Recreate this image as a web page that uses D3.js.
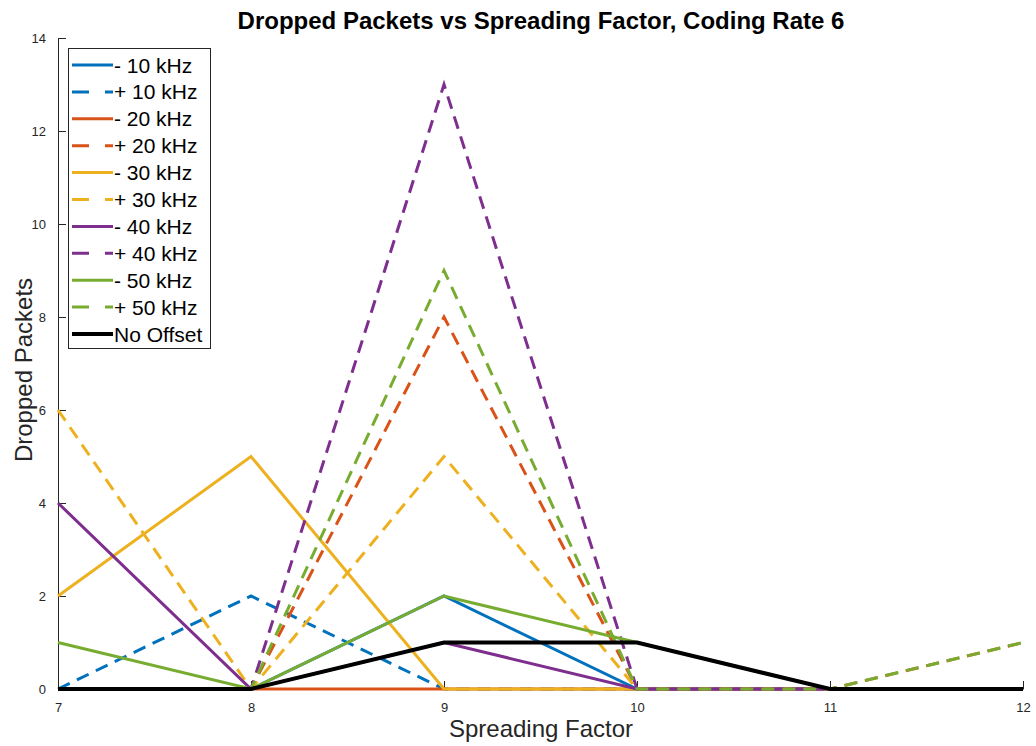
<!DOCTYPE html>
<html>
<head>
<meta charset="utf-8">
<script src="https://cdn.jsdelivr.net/npm/d3@7"></script>
<style>
  html, body { margin: 0; padding: 0; background: #fff; }
  svg { display: block; font-family: "Liberation Sans", Arial, Helvetica, sans-serif; }
</style>
</head>
<body>
<svg id="chart" width="1036" height="746"></svg>
<script>
// Spreading factors on the x axis
const spreadingFactors = [7, 8, 9, 10, 11, 12];

// Dropped packet counts per frequency offset
const minus10 = [0, 0, 2, 0, 0, 0];
const plus10  = [0, 2, 0, 0, 0, 0];
const minus20 = [0, 0, 0, 0, 0, 0];
const plus20  = [0, 0, 8, 0, 0, 1];
const minus30 = [2, 5, 0, 0, 0, 0];
const plus30  = [6, 0, 5, 0, 0, 0];
const minus40 = [4, 0, 1, 0, 0, 0];
const plus40  = [0, 0, 13, 0, 0, 0];
const minus50 = [1, 0, 2, 1, 0, 0];
const plus50  = [0, 0, 9, 0, 0, 1];
const noOffset = [0, 0, 1, 1, 0, 0];

const seriesNames = ["- 10 kHz", "+ 10 kHz", "- 20 kHz", "+ 20 kHz", "- 30 kHz",
                     "+ 30 kHz", "- 40 kHz", "+ 40 kHz", "- 50 kHz", "+ 50 kHz", "No Offset"];
const seriesValues = [minus10, plus10, minus20, plus20, minus30,
                      plus30, minus40, plus40, minus50, plus50, noOffset];

const yTicks = [0, 2, 4, 6, 8, 10, 12, 14];
const xTicks = [7, 8, 9, 10, 11, 12];

const palette = ["#0072BD", "#0072BD", "#D95319", "#D95319", "#EDB120",
                 "#EDB120", "#7E2F8E", "#7E2F8E", "#77AC30", "#77AC30", "#000000"];
const dashed = [false, true, false, true, false, true, false, true, false, true, false];

const svg = d3.select("#chart");
const margin = { left: 58, right: 13, top: 38, bottom: 57 };
const W = 1036, H = 746;

const x = d3.scaleLinear().domain([7, 12]).range([margin.left, W - margin.right]);
const y = d3.scaleLinear().domain([0, 14]).range([H - margin.bottom, margin.top]);

// Axes (ticks pointing into the plot)
const xAxis = svg.append("g")
  .attr("transform", `translate(0,${y(0)})`)
  .call(d3.axisBottom(x).tickValues(xTicks).tickFormat(d3.format("d"))
        .tickSizeInner(-8).tickSizeOuter(0).tickPadding(14));
const yAxis = svg.append("g")
  .attr("transform", `translate(${x(7)},0)`)
  .call(d3.axisLeft(y).tickValues(yTicks).tickFormat(d3.format("d"))
        .tickSizeInner(-8).tickSizeOuter(0).tickPadding(12));

[xAxis, yAxis].forEach(g => {
  g.select(".domain").attr("stroke", "#262626").attr("stroke-width", 1);
  g.selectAll(".tick line").attr("stroke", "#262626").attr("stroke-width", 1);
  g.selectAll(".tick text").attr("fill", "#262626").style("font-size", "13px")
    .style("font-family", "'Liberation Sans', Arial, sans-serif");
});

// Series lines
const line = d3.line()
  .x((d, i) => x(spreadingFactors[i]))
  .y(d => y(d));

seriesValues.forEach((vals, k) => {
  svg.append("path")
    .datum(vals)
    .attr("d", line)
    .attr("fill", "none")
    .attr("stroke", palette[k])
    .attr("stroke-width", k === 10 ? 4 : 3)
    .attr("stroke-dasharray", dashed[k] ? "13,8" : null)
    .attr("stroke-linejoin", "miter");
});

// Title and axis labels
svg.append("text")
  .attr("x", 541).attr("y", 29)
  .attr("text-anchor", "middle")
  .style("font-size", "24px").style("font-weight", "bold")
  .attr("fill", "#000")
  .text("Dropped Packets vs Spreading Factor, Coding Rate 6");

svg.append("text")
  .attr("x", 541).attr("y", 737)
  .attr("text-anchor", "middle")
  .style("font-size", "24px")
  .attr("fill", "#262626")
  .text("Spreading Factor");

svg.append("text")
  .attr("transform", "translate(32,370) rotate(-90)")
  .attr("text-anchor", "middle")
  .style("font-size", "24px")
  .attr("fill", "#262626")
  .text("Dropped Packets");

// Legend
const legend = svg.append("g");
legend.append("rect")
  .attr("x", 68.5).attr("y", 48.5)
  .attr("width", 142).attr("height", 300)
  .attr("fill", "#fff").attr("stroke", "#262626").attr("stroke-width", 1);

seriesNames.forEach((name, k) => {
  const cy = 65 + k * 26.9;
  legend.append("line")
    .attr("x1", 72).attr("x2", 113)
    .attr("y1", cy).attr("y2", cy)
    .attr("stroke", palette[k])
    .attr("stroke-width", k === 10 ? 4 : 3)
    .attr("stroke-dasharray", dashed[k] ? "17,16" : null);
  legend.append("text")
    .attr("x", 114).attr("y", cy + 7.5)
    .style("font-size", "21px")
    .attr("fill", "#000")
    .text(name);
});
</script>
</body>
</html>
